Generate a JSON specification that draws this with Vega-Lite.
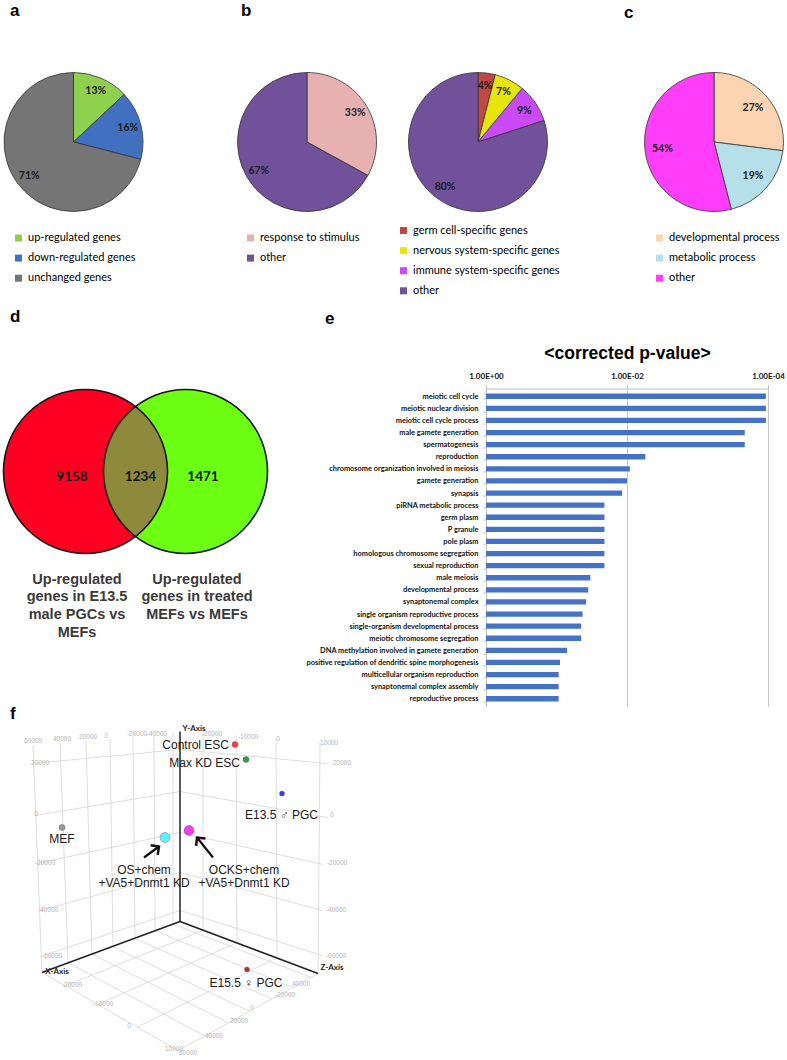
{
  "$schema": "https://vega.github.io/schema/vega-lite/v6.json",
  "padding": {"left": 0, "top": 1.5, "right": 0, "bottom": 0},
  "bounds": "flush",
  "spacing": 316,
  "resolve": {"scale": {"color": "independent", "theta": "independent", "size": "independent", "x": "independent", "y": "independent"}},
  "config": {
    "view": {"stroke": null},
    "font": "Liberation Sans",
    "title": {"fontSize": 17, "fontWeight": "bold", "anchor": "start", "frame": "group", "color": "#000000", "font": "Liberation Sans"},
    "legend": {"orient": "none", "title": null, "symbolType": "square", "symbolSize": 49, "symbolStrokeWidth": 0, "labelFont": "Lato", "labelFontSize": 11, "labelColor": "#000000", "rowPadding": 8.1, "labelOffset": 4, "padding": 0, "direction": "vertical", "labelLimit": 300}
  },
  "vconcat": [
    {
      "hconcat": [
        {
          "width": 139, "height": 139,
          "title": {"text": "a", "dx": 6, "offset": 51},
          "data": {"values": [
            {"category": "up-regulated genes", "share": 13, "rank": 1, "label": "13%"},
            {"category": "down-regulated genes", "share": 16, "rank": 2, "label": "16%"},
            {"category": "unchanged genes", "share": 71, "rank": 3, "label": "71%"}
          ]},
          "layer": [
            {"mark": {"type": "arc", "outerRadius": 69.5, "stroke": "#333333", "strokeWidth": 0.8},
             "encoding": {
               "theta": {"field": "share", "type": "quantitative", "stack": true},
               "order": {"field": "rank", "type": "quantitative"},
               "color": {"field": "category", "type": "nominal",
                 "scale": {"domain": ["up-regulated genes", "down-regulated genes", "unchanged genes"], "range": ["#8fd14f", "#4070bf", "#757575"]},
                 "legend": {"legendX": 9, "legendY": 160}}
             }},
            {"mark": {"type": "text", "radius": 56, "font": "Lato", "fontSize": 10.5, "fontWeight": "bold", "color": "#1a1a1a"},
             "encoding": {
               "theta": {"field": "share", "type": "quantitative", "stack": true},
               "order": {"field": "rank", "type": "quantitative"},
               "text": {"field": "label"}
             }}
          ]
        },
        {
          "width": 328, "height": 139,
          "title": {"text": "b", "dx": 98, "offset": 51},
          "data": {"values": [
            {"category": "response to stimulus", "share": 33, "rank": 1, "label": "33%"},
            {"category": "other", "share": 67, "rank": 2, "label": "67%"}
          ]},
          "layer": [
            {"mark": {"type": "arc", "outerRadius": 69.5, "stroke": "#333333", "strokeWidth": 0.8},
             "encoding": {
               "theta": {"field": "share", "type": "quantitative", "stack": true},
               "order": {"field": "rank", "type": "quantitative"},
               "color": {"field": "category", "type": "nominal",
                 "scale": {"domain": ["response to stimulus", "other"], "range": ["#e8b1b1", "#71519a"]},
                 "legend": {"legendX": 102, "legendY": 160}}
             }},
            {"mark": {"type": "text", "radius": 56, "font": "Lato", "fontSize": 10.5, "fontWeight": "bold", "color": "#1a1a1a"},
             "encoding": {
               "theta": {"field": "share", "type": "quantitative", "stack": true},
               "order": {"field": "rank", "type": "quantitative"},
               "text": {"field": "label"}
             }}
          ]
        },
        {
          "width": 14, "height": 139,
          "data": {"values": [
            {"category": "germ cell-specific genes", "share": 4, "rank": 1, "label": "4%"},
            {"category": "nervous system-specific genes", "share": 7, "rank": 2, "label": "7%"},
            {"category": "immune system-specific genes", "share": 9, "rank": 3, "label": "9%"},
            {"category": "other", "share": 80, "rank": 4, "label": "80%"}
          ]},
          "layer": [
            {"mark": {"type": "arc", "outerRadius": 69.5, "stroke": "#333333", "strokeWidth": 0.8},
             "encoding": {
               "theta": {"field": "share", "type": "quantitative", "stack": true},
               "order": {"field": "rank", "type": "quantitative"},
               "color": {"field": "category", "type": "nominal",
                 "scale": {"domain": ["germ cell-specific genes", "nervous system-specific genes", "immune system-specific genes", "other"], "range": ["#bf4744", "#e6e60c", "#c84bf7", "#71519a"]},
                 "legend": {"legendX": -73, "legendY": 152.5}}
             }},
            {"mark": {"type": "text", "radius": 56, "font": "Lato", "fontSize": 10.5, "fontWeight": "bold", "color": "#1a1a1a"},
             "encoding": {
               "theta": {"field": "share", "type": "quantitative", "stack": true},
               "order": {"field": "rank", "type": "quantitative"},
               "text": {"field": "label"}
             }}
          ]
        },
        {
          "width": 458, "height": 139,
          "title": {"text": "c", "dx": 139, "offset": 49},
          "data": {"values": [
            {"category": "developmental process", "share": 27, "rank": 1, "label": "27%"},
            {"category": "metabolic process", "share": 19, "rank": 2, "label": "19%"},
            {"category": "other", "share": 54, "rank": 3, "label": "54%"}
          ]},
          "layer": [
            {"mark": {"type": "arc", "outerRadius": 69.5, "stroke": "#333333", "strokeWidth": 0.8},
             "encoding": {
               "theta": {"field": "share", "type": "quantitative", "stack": true},
               "order": {"field": "rank", "type": "quantitative"},
               "color": {"field": "category", "type": "nominal",
                 "scale": {"domain": ["developmental process", "metabolic process", "other"], "range": ["#fcd4b2", "#b5dfe9", "#ff3dfb"]},
                 "legend": {"legendX": 169, "legendY": 160}}
             }},
            {"mark": {"type": "text", "radius": 52, "font": "Lato", "fontSize": 10.5, "fontWeight": "bold", "color": "#1a1a1a"},
             "encoding": {
               "theta": {"field": "share", "type": "quantitative", "stack": true},
               "order": {"field": "rank", "type": "quantitative"},
               "text": {"field": "label"}
             }}
          ]
        }
      ],
      "spacing": 0,
      "bounds": "flush",
      "resolve": {"scale": {"color": "independent", "theta": "independent"}}
    },
    {
      "hconcat": [
        {
          "width": 272, "height": 318,
          "title": {"text": "d", "dx": 6, "offset": 60},
          "layer": [
            {
              "data": {"values": [
                {"set": "Up-regulated genes in E13.5 male PGCs vs MEFs", "cx": -1, "cy": 0},
                {"set": "Up-regulated genes in treated MEFs vs MEFs", "cx": 1, "cy": 0}
              ]},
              "mark": {"type": "point", "shape": "circle", "filled": true, "size": 26896, "opacity": 1, "strokeWidth": 0},
              "encoding": {
                "x": {"field": "cx", "type": "quantitative", "scale": {"domain": [-2.63, 2.81], "nice": false, "zero": false}, "axis": null},
                "y": {"field": "cy", "type": "quantitative", "scale": {"domain": [-4.7, 1.66], "nice": false, "zero": false}, "axis": null},
                "color": {"field": "set", "type": "nominal", "scale": {"range": ["#ff0022", "#6cff14"]}, "legend": null}
              }
            },
            {
              "data": {"values": [{"set": "overlap", "cx": 0, "cy": 0}]},
              "mark": {"type": "point", "shape": "M0,-1A1.2615,1.2615 0 0,1 0,1A1.2615,1.2615 0 0,1 0,-1Z", "filled": true, "size": 16900, "opacity": 1, "color": "#8d8a3c", "strokeWidth": 0},
              "encoding": {
                "x": {"field": "cx", "type": "quantitative"},
                "y": {"field": "cy", "type": "quantitative"}
              }
            },
            {
              "data": {"values": [
                {"set": "Up-regulated genes in E13.5 male PGCs vs MEFs", "cx": -1, "cy": 0},
                {"set": "Up-regulated genes in treated MEFs vs MEFs", "cx": 1, "cy": 0}
              ]},
              "mark": {"type": "point", "shape": "circle", "filled": false, "size": 26896, "opacity": 1, "stroke": "#151515", "strokeWidth": 1.6},
              "encoding": {
                "x": {"field": "cx", "type": "quantitative"},
                "y": {"field": "cy", "type": "quantitative"}
              }
            },
            {
              "data": {"values": [
                {"region": "E13.5 male PGCs only", "count": 9158, "lx": -1.27, "ly": -0.1},
                {"region": "both", "count": 1234, "lx": 0.1, "ly": -0.1},
                {"region": "treated MEFs only", "count": 1471, "lx": 1.35, "ly": -0.1}
              ]},
              "mark": {"type": "text", "font": "Lato", "fontSize": 13.5, "fontWeight": "bold", "color": "#111111", "align": "center", "baseline": "middle"},
              "encoding": {
                "x": {"field": "lx", "type": "quantitative"},
                "y": {"field": "ly", "type": "quantitative"},
                "text": {"field": "count", "type": "nominal"}
              }
            },
            {
              "data": {"values": [
                {"caption": "Up-regulated\ngenes in E13.5\nmale PGCs vs\nMEFs", "lx": -1.17, "ly": -2.02},
                {"caption": "Up-regulated\ngenes in treated\nMEFs vs MEFs", "lx": 1.23, "ly": -2.02}
              ]},
              "mark": {"type": "text", "font": "Liberation Sans", "fontSize": 14.5, "fontWeight": "bold", "color": "#3a3a3a", "align": "center", "baseline": "top", "lineBreak": "\n", "lineHeight": 17.7},
              "encoding": {
                "x": {"field": "lx", "type": "quantitative"},
                "y": {"field": "ly", "type": "quantitative"},
                "text": {"field": "caption", "type": "nominal"}
              }
            }
          ]
        },
        {
          "width": 282, "height": 318,
          "title": {"text": "e", "dx": -161, "offset": 17},
          "data": {"values": [
            {"term": "meiotic cell cycle", "neg_log10_p": 3.97},
            {"term": "meiotic nuclear division", "neg_log10_p": 3.97},
            {"term": "meiotic cell cycle process", "neg_log10_p": 3.97},
            {"term": "male gamete generation", "neg_log10_p": 3.67},
            {"term": "spermatogenesis", "neg_log10_p": 3.67},
            {"term": "reproduction", "neg_log10_p": 2.26},
            {"term": "chromosome organization involved in meiosis", "neg_log10_p": 2.04},
            {"term": "gamete generation", "neg_log10_p": 2.0},
            {"term": "synapsis", "neg_log10_p": 1.93},
            {"term": "piRNA metabolic process", "neg_log10_p": 1.68},
            {"term": "germ plasm", "neg_log10_p": 1.68},
            {"term": "P granule", "neg_log10_p": 1.68},
            {"term": "pole plasm", "neg_log10_p": 1.68},
            {"term": "homologous chromosome segregation", "neg_log10_p": 1.68},
            {"term": "sexual reproduction", "neg_log10_p": 1.68},
            {"term": "male meiosis", "neg_log10_p": 1.48},
            {"term": "developmental process", "neg_log10_p": 1.45},
            {"term": "synaptonemal complex", "neg_log10_p": 1.42},
            {"term": "single organism reproductive process", "neg_log10_p": 1.37},
            {"term": "single-organism developmental process", "neg_log10_p": 1.35},
            {"term": "meiotic chromosome segregation", "neg_log10_p": 1.35},
            {"term": "DNA methylation involved in gamete generation", "neg_log10_p": 1.15},
            {"term": "positive regulation of dendritic spine morphogenesis", "neg_log10_p": 1.05},
            {"term": "multicellular organism reproduction", "neg_log10_p": 1.03},
            {"term": "synaptonemal complex assembly", "neg_log10_p": 1.03},
            {"term": "reproductive process", "neg_log10_p": 1.03}
          ]},
          "mark": {"type": "bar", "color": "#4472c4"},
          "encoding": {
            "y": {"field": "term", "type": "nominal", "sort": null,
              "scale": {"paddingInner": 0.56, "paddingOuter": 0.42},
              "axis": {"title": null, "labelFont": "Lato", "labelFontSize": 7.4, "labelFontWeight": "bold", "labelColor": "#111111", "labelLimit": 400, "tickBand": "extent", "tickSize": 3, "tickColor": "#bfbfbf", "domainColor": "#bfbfbf", "labelPadding": 5}},
            "x": {"field": "neg_log10_p", "type": "quantitative",
              "scale": {"domain": [0, 4], "nice": false},
              "axis": {"orient": "top", "values": [0, 2, 4],
                "labelExpr": "datum.value == 0 ? '1.00E+00' : '1.00E-0' + datum.value",
                "title": "<corrected p-value>", "titleFont": "Liberation Sans", "titleFontSize": 17.5, "titleFontWeight": "bold", "titleColor": "#000000", "titlePadding": 10,
                "labelFont": "Lato", "labelFontSize": 8, "labelFontWeight": "bold", "labelColor": "#111111", "labelPadding": 4, "labelFlush": false,
                "grid": true, "gridColor": "#c8c8c8", "domainColor": "#bfbfbf", "tickColor": "#bfbfbf", "tickSize": 4}}
          }
        }
      ],
      "spacing": 210,
      "bounds": "flush",
      "resolve": {"scale": {"x": "independent", "y": "independent", "color": "independent"}}
    },
    {
      "width": 340, "height": 356,
      "title": {"text": "f", "dx": 6, "offset": -18},
      "layer": [
        {
          "data": {"values": [
            {"u": -147, "v": 176, "u2": -138, "v2": -51},
            {"u": -120, "v": 179, "u2": -112, "v2": -41},
            {"u": -94, "v": 181, "u2": -88, "v2": -33},
            {"u": -70, "v": 183, "u2": -67, "v2": -25},
            {"u": -47, "v": 185, "u2": -45, "v2": -17},
            {"u": -26, "v": 187, "u2": -25, "v2": -9},
            {"u": -7, "v": 189, "u2": -7, "v2": -3},
            {"u": -147, "v": 158, "u2": 0, "v2": 172},
            {"u": -145, "v": 106, "u2": 0, "v2": 130},
            {"u": -143, "v": 58, "u2": 0, "v2": 89},
            {"u": -140, "v": 11, "u2": 0, "v2": 49},
            {"u": -137, "v": -34, "u2": 0, "v2": 11},
            {"u": 23, "v": 188, "u2": 23, "v2": -9},
            {"u": 56, "v": 186, "u2": 57, "v2": -21},
            {"u": 96, "v": 183, "u2": 97, "v2": -36},
            {"u": 140, "v": 179, "u2": 138, "v2": -52},
            {"u": 0, "v": 172, "u2": 147, "v2": 158},
            {"u": 0, "v": 130, "u2": 147, "v2": 104},
            {"u": 0, "v": 89, "u2": 143, "v2": 57},
            {"u": 0, "v": 49, "u2": 143, "v2": 11},
            {"u": 0, "v": 11, "u2": 142, "v2": -34},
            {"u": -6.9, "v": -2.6, "u2": 131, "v2": -55.9},
            {"u": -24.8, "v": -9.2, "u2": 112.8, "v2": -65.9},
            {"u": -45.5, "v": -16.8, "u2": 91.8, "v2": -77.4},
            {"u": -67.6, "v": -25, "u2": 69.4, "v2": -89.7},
            {"u": -88.3, "v": -32.6, "u2": 48.4, "v2": -101.3},
            {"u": -111.8, "v": -41.3, "u2": 24.6, "v2": -114.4},
            {"u": -138, "v": -51, "u2": -2, "v2": -129},
            {"u": 23.5, "v": -8.8, "u2": -114.9, "v2": -64.3},
            {"u": 56.6, "v": -21.3, "u2": -82.2, "v2": -83},
            {"u": 96.6, "v": -36.4, "u2": -42.8, "v2": -105.6},
            {"u": 138, "v": -52, "u2": -2, "v2": -129}
          ]},
          "mark": {"type": "rule", "color": "#d4d4d4", "strokeWidth": 0.8},
          "encoding": {
            "x": {"field": "u", "type": "quantitative", "scale": {"domain": [-176, 164], "nice": false, "zero": false}, "axis": null},
            "y": {"field": "v", "type": "quantitative", "scale": {"domain": [-139, 217], "nice": false, "zero": false}, "axis": null},
            "x2": {"field": "u2"},
            "y2": {"field": "v2"}
          }
        },
        {
          "data": {"values": [
            {"axis": "Y", "u": 0, "v": 0, "u2": 0, "v2": 190},
            {"axis": "X", "u": 0, "v": 0, "u2": -138, "v2": -51},
            {"axis": "Z", "u": 0, "v": 0, "u2": 138, "v2": -52}
          ]},
          "mark": {"type": "rule", "color": "#222222", "strokeWidth": 1.5},
          "encoding": {
            "x": {"field": "u", "type": "quantitative"},
            "y": {"field": "v", "type": "quantitative"},
            "x2": {"field": "u2"},
            "y2": {"field": "v2"}
          }
        },
        {
          "data": {"values": [
            {"u": -147, "v": 181, "t": "60000"},
            {"u": -118, "v": 183, "t": "40000"},
            {"u": -92, "v": 185, "t": "20000"},
            {"u": -74, "v": 186, "t": "0"},
            {"u": -43, "v": 188, "t": "-20000"},
            {"u": -23, "v": 188, "t": "-40000"},
            {"u": 32, "v": 188, "t": "-20000"},
            {"u": 68, "v": 185, "t": "-10000"},
            {"u": 98, "v": 183, "t": "0"},
            {"u": 149, "v": 179, "t": "10000"},
            {"u": -140, "v": 159, "t": "20000"},
            {"u": -144, "v": 108, "t": "0"},
            {"u": -135, "v": 59, "t": "-20000"},
            {"u": -132, "v": 12, "t": "-40000"},
            {"u": -128, "v": -34, "t": "-60000"},
            {"u": 162, "v": 159, "t": "20000"},
            {"u": 152, "v": 107, "t": "0"},
            {"u": 157, "v": 59, "t": "-20000"},
            {"u": 156, "v": 12, "t": "-40000"},
            {"u": 156, "v": -34, "t": "-60000"},
            {"u": -108, "v": -63, "t": "-20000"},
            {"u": -77, "v": -82, "t": "-10000"},
            {"u": -51, "v": -104, "t": "0"},
            {"u": -6, "v": -127, "t": "10000"},
            {"u": 8, "v": -131, "t": "60000"},
            {"u": 34, "v": -114, "t": "40000"},
            {"u": 59, "v": -99, "t": "20000"},
            {"u": 72, "v": -86, "t": "0"},
            {"u": 105, "v": -73, "t": "-20000"},
            {"u": 121, "v": -62, "t": "40000"}
          ]},
          "mark": {"type": "text", "font": "Liberation Sans", "fontSize": 6.5, "color": "#b3b3b3", "align": "center", "baseline": "middle"},
          "encoding": {
            "x": {"field": "u", "type": "quantitative"},
            "y": {"field": "v", "type": "quantitative"},
            "text": {"field": "t"}
          }
        },
        {
          "data": {"values": [
            {"u": 14, "v": 193, "t": "Y-Axis"},
            {"u": -123, "v": -50, "t": "X-Axis"},
            {"u": 152, "v": -46, "t": "Z-Axis"}
          ]},
          "mark": {"type": "text", "font": "Lato", "fontSize": 8, "fontWeight": "bold", "color": "#222222", "align": "center", "baseline": "middle"},
          "encoding": {
            "x": {"field": "u", "type": "quantitative"},
            "y": {"field": "v", "type": "quantitative"},
            "text": {"field": "t"}
          }
        },
        {
          "data": {"values": [
            {"sample": "Control ESC", "u": 55, "v": 177},
            {"sample": "Max KD ESC", "u": 66, "v": 162},
            {"sample": "E13.5 male PGC", "u": 102, "v": 128},
            {"sample": "MEF", "u": -118, "v": 94},
            {"sample": "OS+chem+VA5+Dnmt1 KD", "u": -15, "v": 84},
            {"sample": "OCKS+chem+VA5+Dnmt1 KD", "u": 9, "v": 91},
            {"sample": "E15.5 female PGC", "u": 67, "v": -48}
          ]},
          "mark": {"type": "point", "shape": "circle", "filled": true, "opacity": 1, "stroke": "#555555", "strokeWidth": 0.4},
          "encoding": {
            "x": {"field": "u", "type": "quantitative"},
            "y": {"field": "v", "type": "quantitative"},
            "color": {"field": "sample", "type": "nominal", "legend": null,
              "scale": {"domain": ["Control ESC", "Max KD ESC", "E13.5 male PGC", "MEF", "OS+chem+VA5+Dnmt1 KD", "OCKS+chem+VA5+Dnmt1 KD", "E15.5 female PGC"],
                        "range": ["#ff3b3b", "#3a9a3a", "#3434ff", "#9a9a9a", "#5ef0ff", "#f03cf0", "#a33a3a"]}},
            "size": {"field": "sample", "type": "nominal", "legend": null,
              "scale": {"type": "ordinal", "domain": ["Control ESC", "Max KD ESC", "E13.5 male PGC", "MEF", "OS+chem+VA5+Dnmt1 KD", "OCKS+chem+VA5+Dnmt1 KD", "E15.5 female PGC"],
                        "range": [36, 36, 25, 36, 100, 100, 25]}}
          }
        },
        {
          "data": {"values": [
            {"u": 49, "v": 177, "t": "Control ESC"},
            {"u": 60, "v": 159, "t": "Max KD ESC"}
          ]},
          "mark": {"type": "text", "font": "Liberation Sans", "fontSize": 12, "color": "#1a1a1a", "align": "right", "baseline": "middle"},
          "encoding": {
            "x": {"field": "u", "type": "quantitative"},
            "y": {"field": "v", "type": "quantitative"},
            "text": {"field": "t"}
          }
        },
        {
          "data": {"values": [
            {"u": 65, "v": 107, "t": "E13.5 ♂ PGC"}
          ]},
          "mark": {"type": "text", "font": "Liberation Sans", "fontSize": 12, "color": "#1a1a1a", "align": "left", "baseline": "middle"},
          "encoding": {
            "x": {"field": "u", "type": "quantitative"},
            "y": {"field": "v", "type": "quantitative"},
            "text": {"field": "t"}
          }
        },
        {
          "data": {"values": [
            {"u": -118, "v": 88, "t": "MEF"},
            {"u": -36, "v": 57, "t": "OS+chem\n+VA5+Dnmt1 KD"},
            {"u": 64, "v": 57, "t": "OCKS+chem\n+VA5+Dnmt1 KD"},
            {"u": 66, "v": -56, "t": "E15.5 ♀ PGC"}
          ]},
          "mark": {"type": "text", "font": "Liberation Sans", "fontSize": 12, "color": "#1a1a1a", "align": "center", "baseline": "top", "lineBreak": "\n", "lineHeight": 13.5},
          "encoding": {
            "x": {"field": "u", "type": "quantitative"},
            "y": {"field": "v", "type": "quantitative"},
            "text": {"field": "t"}
          }
        },
        {
          "data": {"values": [
            {"u": -36, "v": 64, "u2": -21, "v2": 75, "angle": 54},
            {"u": 33, "v": 64, "u2": 17, "v2": 84, "angle": 321}
          ]},
          "layer": [
            {"mark": {"type": "rule", "color": "#111111", "strokeWidth": 2.2},
             "encoding": {
               "x": {"field": "u", "type": "quantitative"},
               "y": {"field": "v", "type": "quantitative"},
               "x2": {"field": "u2"},
               "y2": {"field": "v2"}
             }},
            {"mark": {"type": "point", "shape": "M-1,1L0,0L1,1", "filled": false, "size": 144, "opacity": 1, "stroke": "#111111", "strokeWidth": 2.5},
             "encoding": {
               "x": {"field": "u2", "type": "quantitative"},
               "y": {"field": "v2", "type": "quantitative"},
               "angle": {"field": "angle", "type": "quantitative", "scale": null}
             }}
          ]
        }
      ]
    }
  ]
}
